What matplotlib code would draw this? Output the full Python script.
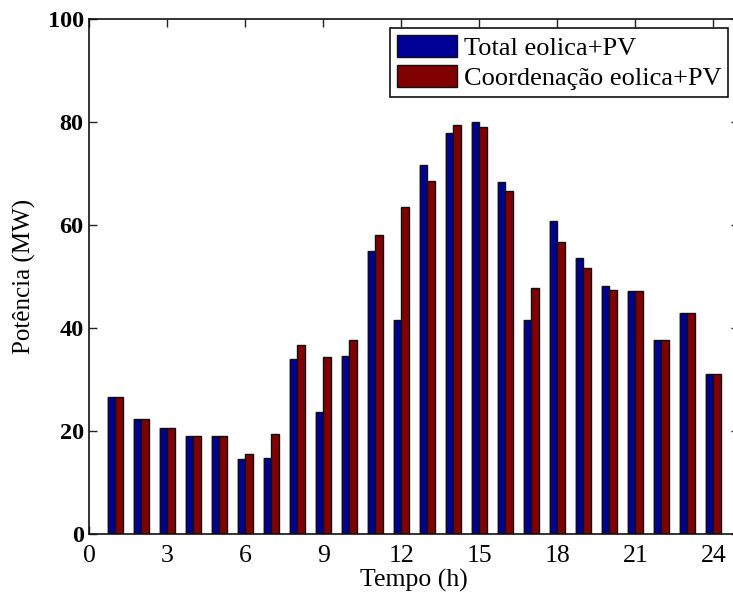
import matplotlib
matplotlib.use("Agg")
import matplotlib.pyplot as plt
import numpy as np

# Hourly power (MW): total wind+PV vs. coordinated wind+PV
hours = list(range(1, 25))
total_eolica_pv = [26.7, 22.3, 20.6, 19.0, 19.1, 14.6, 14.8, 34.0, 23.7, 34.6,
                   55.0, 41.6, 71.8, 78.0, 80.1, 68.5, 41.6, 60.9, 53.7, 48.2,
                   47.2, 37.7, 42.9, 31.1]
coord_eolica_pv = [26.7, 22.3, 20.6, 19.0, 19.1, 15.6, 19.5, 36.7, 34.4, 37.7,
                   58.1, 63.6, 68.6, 79.4, 79.1, 66.6, 47.9, 56.7, 51.8, 47.4,
                   47.2, 37.7, 42.9, 31.1]
series_labels = ["Total eolica+PV", "Coordenação eolica+PV"]
x_ticks = [0, 3, 6, 9, 12, 15, 18, 21, 24]
y_ticks = [0, 20, 40, 60, 80, 100]

plt.rcParams["font.family"] = ["Liberation Serif", "DejaVu Serif"]

fig = plt.figure(figsize=(7.33, 5.98), dpi=100)
ax = fig.add_axes([0.1218, 0.1065, 0.8870, 0.8612])

blue = "#000096"
red = "#800000"
w = 0.28
x = np.array(hours, dtype=float)

# light shadow behind each bar
ax.bar(x - w - 0.05, total_eolica_pv, width=w, align="edge", color="#b8b8c8",
       edgecolor="none", zorder=1)
ax.bar(x, coord_eolica_pv, width=w + 0.04, align="edge", color="#e8c8c8",
       edgecolor="none", zorder=1)

ax.bar(x - w, total_eolica_pv, width=w, align="edge", color=blue,
       edgecolor="#101010", linewidth=1.0, label=series_labels[0], zorder=2)
ax.bar(x, coord_eolica_pv, width=w, align="edge", color=red,
       edgecolor="#101010", linewidth=1.0, label=series_labels[1], zorder=2)

ax.set_xlim(0, 25)
ax.set_ylim(0, 100)
ax.set_xticks(x_ticks)
ax.set_yticks(y_ticks)
ax.tick_params(axis="both", direction="in", length=6, width=1,
               top=True, right=True, color="#222222")
ax.tick_params(axis="x", labelsize=18.5, pad=8)
ax.tick_params(axis="y", labelsize=17.5, pad=4)
for lab in ax.get_yticklabels():
    lab.set_fontweight("bold")
for s in ax.spines.values():
    s.set_linewidth(1.2)
    s.set_color("#111111")

ax.set_xlabel("Tempo (h)", fontsize=18.5, labelpad=1)
ax.set_ylabel("Potência (MW)", fontsize=18, labelpad=8)

leg = ax.legend(loc="upper right", bbox_to_anchor=(728 / 733, 1 - 28 / 598),
                bbox_transform=fig.transFigure, borderaxespad=0,
                fontsize=19, fancybox=False, framealpha=1,
                edgecolor="#111111", handlelength=2.3, handleheight=0.9,
                handletextpad=0.25, labelspacing=0.2, borderpad=0.25)
leg.get_frame().set_linewidth(1.2)

fig.savefig("out.png", dpi=100)
